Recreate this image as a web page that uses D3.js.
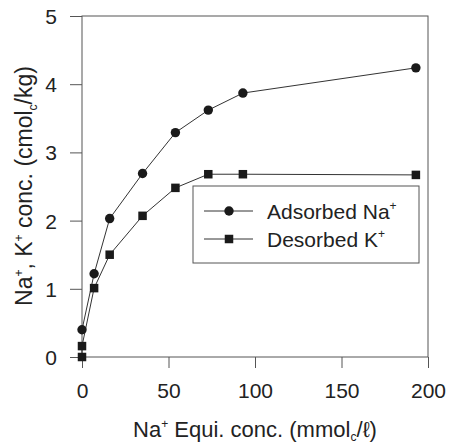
<!DOCTYPE html>
<html>
<head>
<meta charset="utf-8">
<script src="https://cdn.jsdelivr.net/npm/d3@7"></script>
<style>
  html, body { margin: 0; padding: 0; background: #fff; }
  svg { display: block; }
  text { font-family: "Liberation Sans", Arial, sans-serif; fill: #222; }
</style>
</head>
<body>
<svg id="chart" width="449" height="445"></svg>
<script>
// Equilibrium Na+ concentration (mmolc/L)
const naX = [0, 7, 16, 35, 54, 73, 93, 193];
const naAdsorbed = [0.40, 1.22, 2.03, 2.69, 3.29, 3.62, 3.87, 4.24];
const kX = [0, 0, 7, 16, 35, 54, 73, 93, 193];
const kDesorbed = [0.00, 0.16, 1.01, 1.50, 2.07, 2.48, 2.68, 2.68, 2.67];
const xTicks = [0, 50, 100, 150, 200];
const yTicks = [0, 1, 2, 3, 4, 5];

const svg = d3.select("#chart");
const m = { left: 82, right: 428, top: 16, bottom: 357 };

const x = d3.scaleLinear().domain([0, 200]).range([m.left, m.right]);
const y = d3.scaleLinear().domain([0, 5]).range([m.bottom, m.top]);

const axisColor = "#555";
const font = '"Liberation Sans", Arial, sans-serif';

// plot frame
svg.append("rect")
  .attr("x", m.left).attr("y", m.top)
  .attr("width", m.right - m.left).attr("height", m.bottom - m.top)
  .attr("fill", "none").attr("stroke", axisColor).attr("stroke-width", 1);

// axes
const xAxis = svg.append("g")
  .attr("transform", `translate(0,${m.bottom})`)
  .call(d3.axisBottom(x).tickValues(xTicks).tickFormat(d3.format("d"))
    .tickSize(11).tickPadding(15));
const yAxis = svg.append("g")
  .attr("transform", `translate(${m.left},0)`)
  .call(d3.axisLeft(y).tickValues(yTicks).tickFormat(d3.format("d"))
    .tickSize(12).tickPadding(13));

[xAxis, yAxis].forEach(g => {
  g.select(".domain").remove();
  g.selectAll(".tick line").attr("stroke", axisColor);
  g.selectAll(".tick text")
    .style("font-family", font)
    .style("font-size", "21px").attr("fill", "#222");
});
yAxis.selectAll(".tick text").attr("dy", "0.36em");

// axis titles
const xt = svg.append("text")
  .attr("x", 255).attr("y", 437)
  .attr("text-anchor", "middle")
  .style("font-size", "22px");
xt.append("tspan").text("Na");
xt.append("tspan").text("+").attr("dy", -9).style("font-size", "12px");
xt.append("tspan").text(" Equi. conc. (mmol").attr("dy", 9);
xt.append("tspan").text("c").attr("dy", 4).style("font-size", "12px");
xt.append("tspan").text("/\u2113)").attr("dy", -4);

const yt = svg.append("text")
  .attr("transform", "translate(32,186) rotate(-90)")
  .attr("text-anchor", "middle")
  .style("font-size", "23px");
yt.append("tspan").text("Na");
yt.append("tspan").text("+").attr("dy", -9).style("font-size", "12px");
yt.append("tspan").text(", K").attr("dy", 9);
yt.append("tspan").text("+").attr("dy", -9).style("font-size", "12px");
yt.append("tspan").text(" conc. (cmol").attr("dy", 9);
yt.append("tspan").text("c").attr("dy", 5).style("font-size", "12px");
yt.append("tspan").text("/kg)").attr("dy", -5);

const lineColor = "#333";
const markColor = "#1a1a1a";

function series(xs, ys) { return xs.map((d, i) => [d, ys[i]]); }
const naData = series(naX, naAdsorbed);
const kData = series(kX, kDesorbed);

const line = d3.line().x(d => x(d[0])).y(d => y(d[1]));

svg.append("path").datum(naData).attr("d", line)
  .attr("fill", "none").attr("stroke", lineColor).attr("stroke-width", 1);
svg.append("path").datum(kData).attr("d", line)
  .attr("fill", "none").attr("stroke", lineColor).attr("stroke-width", 1);

const sq = 8.5;
svg.append("g").selectAll("rect").data(kData).join("rect")
  .attr("x", d => x(d[0]) - sq / 2).attr("y", d => y(d[1]) - sq / 2)
  .attr("width", sq).attr("height", sq).attr("fill", markColor);
svg.append("g").selectAll("circle").data(naData).join("circle")
  .attr("cx", d => x(d[0])).attr("cy", d => y(d[1])).attr("r", 4.7)
  .attr("fill", markColor);

// legend
const lg = svg.append("g");
lg.append("rect").attr("x", 193).attr("y", 186).attr("width", 226).attr("height", 77)
  .attr("fill", "#fff").attr("stroke", axisColor).attr("stroke-width", 1);

const legendItems = [
  { name: "Adsorbed Na", shape: "circle", yy: 211 },
  { name: "Desorbed K", shape: "square", yy: 239 }
];
legendItems.forEach(it => {
  lg.append("line").attr("x1", 204).attr("x2", 253).attr("y1", it.yy).attr("y2", it.yy)
    .attr("stroke", lineColor).attr("stroke-width", 1);
  if (it.shape === "circle") {
    lg.append("circle").attr("cx", 229).attr("cy", it.yy).attr("r", 4.7).attr("fill", markColor);
  } else {
    lg.append("rect").attr("x", 229 - sq / 2).attr("y", it.yy - sq / 2)
      .attr("width", sq).attr("height", sq).attr("fill", markColor);
  }
  const t = lg.append("text").attr("x", 267).attr("y", it.yy + 8).style("font-size", "21px");
  t.append("tspan").text(it.name);
  t.append("tspan").text("+").attr("dy", -9).style("font-size", "12px");
});
</script>
</body>
</html>
